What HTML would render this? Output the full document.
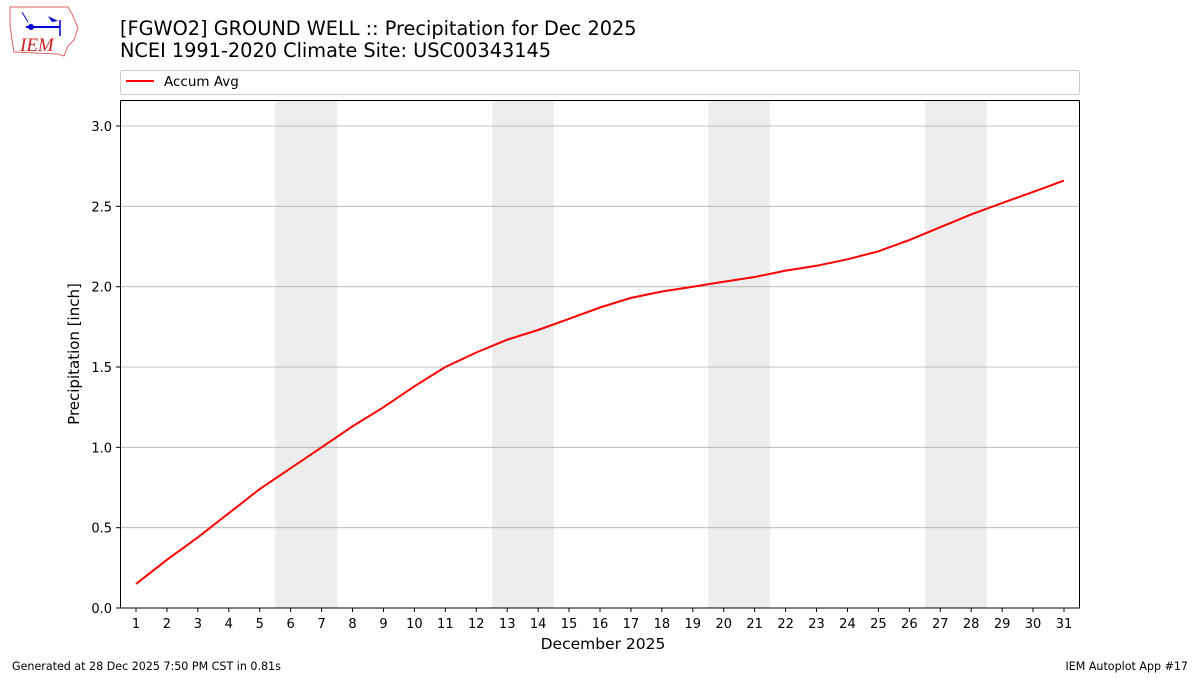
<!DOCTYPE html>
<html><head><meta charset="utf-8"><style>
body{margin:0;background:#fff;width:1200px;height:675px;overflow:hidden;font-family:"DejaVu Sans","Liberation Sans",sans-serif;}
</style></head><body>
<svg width="1200" height="675" xmlns="http://www.w3.org/2000/svg" font-family="DejaVu Sans, Liberation Sans, sans-serif">
<rect width="1200" height="675" fill="#fff"/>
<path d="M10 7 L68 7 L72 14 L78 28 L74 40 L68 46 L64 56 L58 54 L14 52 L12 40 L10 25 Z" fill="none" stroke="#d66" stroke-width="1"/>
<line x1="26" y1="27" x2="60" y2="27" stroke="#0000cc" stroke-width="2"/>
<circle cx="31" cy="27" r="3" fill="#0000cc"/>
<path d="M48 16 L58 21 L52 22 Z" fill="#0000cc"/>
<line x1="60" y1="20" x2="60" y2="36" stroke="#0000cc" stroke-width="1.5"/>
<line x1="22" y1="12" x2="28" y2="22" stroke="#0000cc" stroke-width="1"/>
<text x="20" y="51" font-family="Liberation Serif, serif" font-style="italic" font-size="19" fill="#cc2222">IEM</text>
<text x="120" y="35" font-size="19.3" fill="#000">[FGWO2] GROUND WELL :: Precipitation for Dec 2025</text>
<text x="120" y="57" font-size="19.3" fill="#000">NCEI 1991-2020 Climate Site: USC00343145</text>
<rect x="120.5" y="70.5" width="959" height="24" rx="2" fill="#fff" stroke="#ccc"/>
<line x1="126" y1="81" x2="154" y2="81" stroke="#f00" stroke-width="2"/>
<text x="164" y="86" font-size="13.5">Accum Avg</text>
<g fill="#ededed">
<rect x="275.2" y="100" width="61.9" height="508"/>
<rect x="492.3" y="100" width="61.8" height="508"/>
<rect x="708.3" y="100" width="61.9" height="508"/>
<rect x="924.8" y="100" width="61.9" height="508"/>
</g>
<g stroke="#b0b0b0" stroke-width="0.8">
<line x1="120" x2="1080" y1="527.7" y2="527.7"/>
<line x1="120" x2="1080" y1="447.3" y2="447.3"/>
<line x1="120" x2="1080" y1="367" y2="367"/>
<line x1="120" x2="1080" y1="286.7" y2="286.7"/>
<line x1="120" x2="1080" y1="206.3" y2="206.3"/>
<line x1="120" x2="1080" y1="126" y2="126"/>
</g>
<polyline fill="none" stroke="#f00" stroke-width="2" points="136,583.9 166.9,559.8 197.9,537.3 228.8,513.2 259.7,489.1 290.7,468.2 321.6,447.3 352.5,426.4 383.5,407.2 414.4,386.3 445.3,367 476.3,352.5 507.2,339.7 538.1,330 569.1,318.8 600,307.5 630.9,297.9 661.9,291.5 692.8,286.7 723.7,281.8 754.7,277 785.6,270.6 816.5,265.8 847.5,259.3 878.4,251.3 909.3,240.1 940.3,227.2 971.2,214.4 1002.1,203.1 1033.1,191.9 1064,180.6"/>
<rect x="120.5" y="100.5" width="959" height="507.5" fill="none" stroke="#000" stroke-width="1"/>
<g stroke="#000"><line x1="116" x2="120" y1="608" y2="608"/><line x1="116" x2="120" y1="527.7" y2="527.7"/><line x1="116" x2="120" y1="447.3" y2="447.3"/><line x1="116" x2="120" y1="367" y2="367"/><line x1="116" x2="120" y1="286.7" y2="286.7"/><line x1="116" x2="120" y1="206.3" y2="206.3"/><line x1="116" x2="120" y1="126" y2="126"/></g>
<g font-size="13" text-anchor="end">
<text x="112" y="613">0.0</text><text x="112" y="532.7">0.5</text><text x="112" y="452.3">1.0</text><text x="112" y="372">1.5</text><text x="112" y="291.7">2.0</text><text x="112" y="211.3">2.5</text><text x="112" y="131">3.0</text>
</g>
<text transform="translate(79,354) rotate(-90)" font-size="15" text-anchor="middle">Precipitation [inch]</text>
<g id="xt" font-size="13" text-anchor="middle">
<script>
(function(){var g=document.getElementById('xt');var ns='http://www.w3.org/2000/svg';for(var d=1;d<=31;d++){var x=136+30.933*(d-1);var l=document.createElementNS(ns,'line');l.setAttribute('x1',x);l.setAttribute('x2',x);l.setAttribute('y1',608);l.setAttribute('y2',612);l.setAttribute('stroke','#000');g.appendChild(l);var t=document.createElementNS(ns,'text');t.setAttribute('x',x);t.setAttribute('y',628);t.textContent=d;g.appendChild(t);}})();
</script>
</g>
<text x="603" y="649" font-size="15.5" text-anchor="middle">December 2025</text>
<text x="12" y="670" font-size="11.1">Generated at 28 Dec 2025 7:50 PM CST in 0.81s</text>
<text x="1188" y="670" font-size="11.1" text-anchor="end">IEM Autoplot App #17</text>
</svg>
</body></html>
